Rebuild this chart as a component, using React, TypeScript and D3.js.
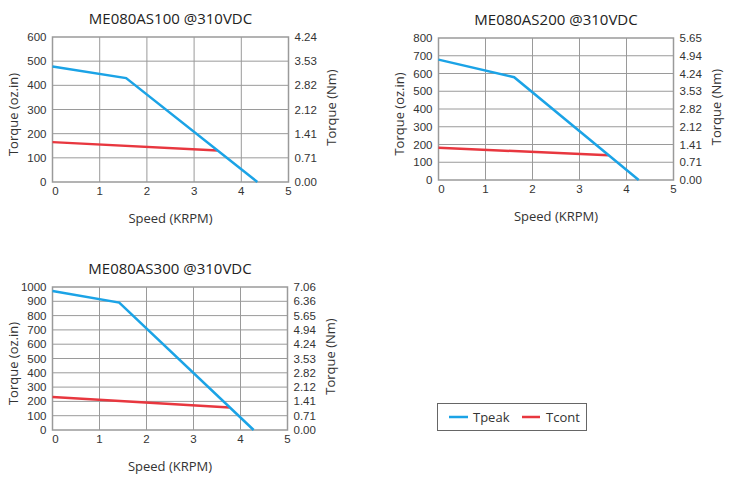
import React from "react";
import * as d3 from "d3";

const titles = ["ME080AS100 @310VDC", "ME080AS200 @310VDC", "ME080AS300 @310VDC"];
const speedTicks = [0, 1, 2, 3, 4, 5];
const ozTicks1 = [0, 100, 200, 300, 400, 500, 600];
const nmTicks1 = ["0.00", "0.71", "1.41", "2.12", "2.82", "3.53", "4.24"];
const ozTicks2 = [0, 100, 200, 300, 400, 500, 600, 700, 800];
const nmTicks2 = ["0.00", "0.71", "1.41", "2.12", "2.82", "3.53", "4.24", "4.94", "5.65"];
const ozTicks3 = [0, 100, 200, 300, 400, 500, 600, 700, 800, 900, 1000];
const nmTicks3 = ["0.00", "0.71", "1.41", "2.12", "2.82", "3.53", "4.24", "4.94", "5.65", "6.36", "7.06"];

// [speed KRPM, torque oz.in]
const tpeak1: [number, number][] = [[0, 478], [1.56, 430], [4.34, 0]];
const tcont1: [number, number][] = [[0, 165], [3.5, 130]];
const tpeak2: [number, number][] = [[0, 678], [1.61, 579], [4.26, 0]];
const tcont2: [number, number][] = [[0, 182], [3.62, 139]];
const tpeak3: [number, number][] = [[0, 972], [1.42, 891], [4.28, 0]];
const tcont3: [number, number][] = [[0, 230], [3.77, 158]];

const legendLabels = ["Tpeak", "Tcont"];
const BLUE = "#1ba3e6";
const RED = "#e8373f";
const GRID = "#9a9a9a";
const TEXT = "#333";
const TITLE_FONT = "'Open Sans', 'Noto Sans', sans-serif";
const TICK_FONT = "'Liberation Sans', Arial, sans-serif";

type PanelProps = {
  title: string;
  x0: number; x1: number; y0: number; y1: number;
  ozTicks: number[]; nmTicks: string[];
  peak: [number, number][]; cont: [number, number][];
};

function Panel({ title, x0, x1, y0, y1, ozTicks, nmTicks, peak, cont }: PanelProps) {
  const xs = d3.scaleLinear().domain([0, 5]).range([x0, x1]);
  const ymax = ozTicks[ozTicks.length - 1];
  const ys = d3.scaleLinear().domain([0, ymax]).range([y1, y0]);
  const line = d3.line<[number, number]>().x(d => xs(d[0])).y(d => ys(d[1]));
  const cx = (x0 + x1) / 2;
  const cy = (y0 + y1) / 2;
  return (
    <g>
      <text x={cx} y={y0 - 13} textAnchor="middle" fontFamily={TITLE_FONT} fontSize={15} fill="#222">{title}</text>
      {speedTicks.slice(1, -1).map(t => (
        <line key={"vx" + t} x1={xs(t)} x2={xs(t)} y1={y0} y2={y1} stroke={GRID} strokeWidth={1} />
      ))}
      {ozTicks.slice(1, -1).map(t => (
        <line key={"hy" + t} x1={x0} x2={x1} y1={ys(t)} y2={ys(t)} stroke={GRID} strokeWidth={1} />
      ))}
      <rect x={x0} y={y0} width={x1 - x0} height={y1 - y0} fill="none" stroke={GRID} strokeWidth={1.5} />
      <path d={line(cont) || ""} fill="none" stroke={RED} strokeWidth={2.5} />
      <path d={line(peak) || ""} fill="none" stroke={BLUE} strokeWidth={2.5} />
      {ozTicks.map(t => (
        <text key={"ly" + t} x={x0 - 6} y={ys(t)} dy="0.35em" textAnchor="end" fontFamily={TICK_FONT} fontSize={11.5} fill={TEXT}>{t}</text>
      ))}
      {nmTicks.map((t, i) => (
        <text key={"ry" + t} x={x1 + 6} y={ys(ozTicks[i])} dy="0.35em" textAnchor="start" fontFamily={TICK_FONT} fontSize={11.5} fill={TEXT}>{t}</text>
      ))}
      {speedTicks.map(t => (
        <text key={"tx" + t} x={xs(t) + (t === 0 ? 3 : 0)} y={y1 + 13} textAnchor="middle" fontFamily={TICK_FONT} fontSize={11.5} fill={TEXT}>{t}</text>
      ))}
      <text x={cx} y={y1 + 41} textAnchor="middle" fontFamily={TITLE_FONT} fontSize={13} fill={TEXT}>Speed (KRPM)</text>
      <text transform={`translate(${x0 - 35},${cy + 5}) rotate(-90)`} textAnchor="middle" fontFamily={TITLE_FONT} fontSize={13} fill={TEXT}>Torque (oz.in)</text>
      <text transform={`translate(${x1 + 47},${cy - 2}) rotate(-90)`} textAnchor="middle" fontFamily={TITLE_FONT} fontSize={13} fill={TEXT}>Torque (Nm)</text>
    </g>
  );
}

export default function App() {
  return (
    <svg width={740} height={500} style={{ position: "absolute", left: 0, top: 0, background: "#fff" }}>
      <rect width={740} height={500} fill="#fff" />
      <Panel title={titles[0]} x0={52.5} x1={288.5} y0={37} y1={182} ozTicks={ozTicks1} nmTicks={nmTicks1} peak={tpeak1} cont={tcont1} />
      <Panel title={titles[1]} x0={438.5} x1={673.5} y0={38} y1={180} ozTicks={ozTicks2} nmTicks={nmTicks2} peak={tpeak2} cont={tcont2} />
      <Panel title={titles[2]} x0={52.5} x1={287.5} y0={287} y1={430} ozTicks={ozTicks3} nmTicks={nmTicks3} peak={tpeak3} cont={tcont3} />
      <g>
        <rect x={437.5} y={403.5} width={149} height={27} fill="#fff" stroke="#666" strokeWidth={1} />
        <line x1={449} x2={468} y1={417} y2={417} stroke={BLUE} strokeWidth={2.5} />
        <text x={473} y={417} dy="0.35em" fontFamily={TITLE_FONT} fontSize={13} fill={TEXT}>{legendLabels[0]}</text>
        <line x1={522} x2={540} y1={417} y2={417} stroke={RED} strokeWidth={2.5} />
        <text x={546} y={417} dy="0.35em" fontFamily={TITLE_FONT} fontSize={13} fill={TEXT}>{legendLabels[1]}</text>
      </g>
    </svg>
  );
}
